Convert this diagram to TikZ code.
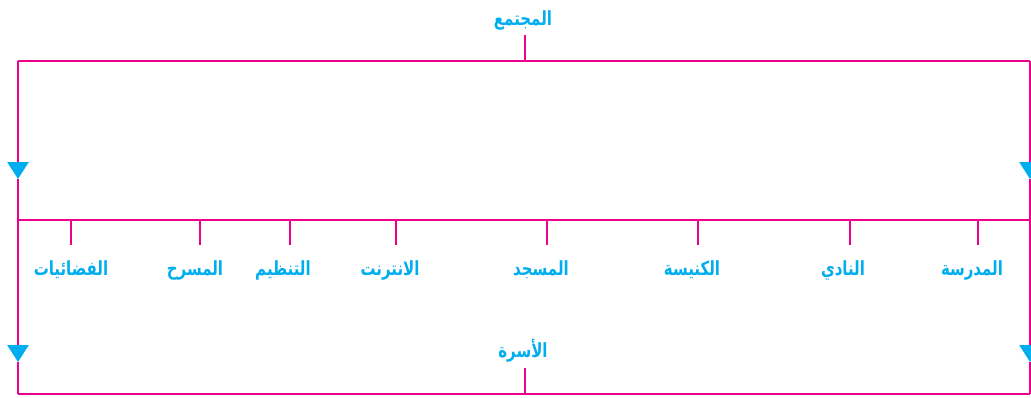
\documentclass[tikz,border=0pt]{standalone}
\usepackage{fontspec}
\newfontfamily\arabicfont[Script=Arabic]{DejaVu Sans}
\TeXXeTstate=1
\usetikzlibrary{arrows.meta}
\definecolor{mag}{RGB}{236,0,140}
\definecolor{cy}{RGB}{0,174,239}
\tikzset{
  link/.style={draw=mag, line width=2.8pt},
  downarrow/.style={link, -{Triangle[width=21pt,length=17pt,color=cy,fill=cy]}},
  lbl/.style={text=cy, font=\arabicfont\bfseries\fontsize{15}{17}\selectfont, inner sep=0pt, anchor=center, yscale=1.3, transform shape}
}
\begin{document}
\begin{tikzpicture}[x=1pt,y=-1pt]
\useasboundingbox (0,0) rectangle (1031,397);
% frame coordinates
\coordinate (TL) at (18,61);
\coordinate (TR) at (1030,61);
\coordinate (T) at (525,61);
\coordinate (Ttop) at (525,35);
\coordinate (ML) at (18,220);
\coordinate (MR) at (1030,220);
\coordinate (BL) at (18,394);
\coordinate (BR) at (1030,394);
\coordinate (B) at (525,394);
\coordinate (Btop) at (525,368);
\coordinate (A1L) at (18,179);
\coordinate (A2L) at (18,362);
\coordinate (A1R) at (1030,179);
\coordinate (A2R) at (1030,362);
% labels
\node[lbl] (soc) at (523,20) {\beginR المجتمع\endR};
\node[lbl] (fam) at (523,351) {\beginR الأسرة\endR};
% lines
\draw[link] (TL) -- (TR);
\draw[link] (Ttop) -- (T);
\draw[link] (ML) -- (MR);
\draw[link] (BL) -- (BR);
\draw[link] (Btop) -- (B);
\draw[downarrow] (TL) -- (A1L);
\draw[downarrow] (A1L) -- (A2L);
\draw[link] (A2L) -- (BL);
\draw[downarrow] (TR) -- (A1R);
\draw[downarrow] (A1R) -- (A2R);
\draw[link] (A2R) -- (BR);
% branches
\foreach \x/\lx/\name/\txt in {
  71/71/f1/الفضائيات,
  200/195/f2/المسرح,
  290/283/f3/التنظيم,
  396/390/f4/الانترنت,
  547/541/f5/المسجد,
  698/692/f6/الكنيسة,
  850/843/f7/النادي,
  978/972/f8/المدرسة}{
  \coordinate (\name top) at (\x,220);
  \coordinate (\name bot) at (\x,245);
  \draw[link] (\name top) -- (\name bot);
  \node[lbl] (\name) at (\lx,270) {\beginR\txt\endR};
}
\end{tikzpicture}
\end{document}
